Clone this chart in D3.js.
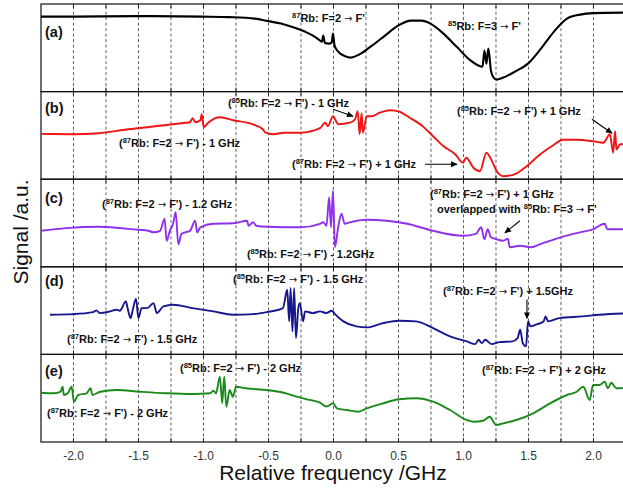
<!DOCTYPE html>
<html>
<head>
<meta charset="utf-8">
<script src="https://cdn.jsdelivr.net/npm/d3@7"></script>
<style>
body { margin: 0; background: #fff; }
svg { display: block; font-family: Arial, "Liberation Sans", sans-serif; }
</style>
</head>
<body>
<svg id="drawing_region"></svg>
<script>
// relative frequency (GHz) and signal (a.u.)
const traceA = [
  [-2.246,75],[-2.0,75],[-1.5,75.5],[-1.0,75],[-0.8,74.5],[-0.6,73],[-0.5,70.5],[-0.4,68],
  [-0.3,64],[-0.2,59],[-0.13,54],[-0.1,51],[-0.085,50],[-0.075,56],[-0.062,48.5],[-0.03,48],
  [-0.01,49],[0.0,58],[0.012,46],[0.04,40],[0.1,35],[0.13,34],[0.2,37],[0.3,46],[0.4,56],
  [0.5,66],[0.6,71],[0.68,71],[0.75,68],[0.85,58],[0.95,45],[1.05,32],[1.12,26],[1.15,25],
  [1.165,41],[1.18,28],[1.195,43],[1.215,21],[1.235,14],[1.26,12],[1.3,13.5],[1.4,20],
  [1.5,28],[1.6,43],[1.7,60],[1.8,73],[1.9,77],[2.0,78.5],[2.25,79]
];
const traceB = [
  [-2.246,45.3],[-2.0,45],[-1.8,46],[-1.6,49.5],[-1.4,52.5],[-1.2,55.5],[-1.1,57],[-1.08,61],
  [-1.06,57],[-1.02,59],[-1.01,65],[-0.995,52],[-0.96,56.5],[-0.87,62],[-0.77,59],[-0.62,55],
  [-0.54,50],[-0.52,46.5],[-0.46,45],[-0.38,46.5],[-0.25,46.5],[-0.1,51],[-0.06,56.5],
  [-0.04,53],[0.0,63],[0.04,55],[0.13,56.5],[0.17,60],[0.19,68],[0.205,45],[0.22,66],
  [0.23,46.5],[0.26,63],[0.3,63],[0.36,66.5],[0.44,69],[0.51,67.5],[0.59,61.5],[0.69,53],
  [0.77,43],[0.85,33],[0.94,25],[1.0,16.5],[1.025,21.5],[1.08,11.5],[1.13,8],[1.18,26.5],
  [1.21,21.5],[1.26,8],[1.31,3],[1.39,4.5],[1.49,13],[1.59,24.5],[1.7,34.5],[1.77,39.5],
  [1.87,39.5],[2.0,38],[2.08,36.5],[2.13,45],[2.155,26.5],[2.17,48],[2.18,30],[2.21,35],[2.25,35]
];
const traceC = [
  [-2.246,36],[-2.05,38.7],[-1.8,40],[-1.5,37],[-1.42,36],[-1.38,34.5],[-1.33,36],[-1.295,48],
  [-1.28,26],[-1.255,36],[-1.23,43],[-1.21,54.5],[-1.19,22.5],[-1.165,33],[-1.1,36],[-1.06,46],
  [-1.045,34.5],[-1.02,39.5],[-0.92,43],[-0.77,43.5],[-0.66,46],[-0.65,41],[-0.615,44.5],
  [-0.59,41],[-0.51,40],[-0.25,39.5],[-0.1,43],[-0.075,44.5],[-0.05,41],[-0.03,69.5],
  [-0.015,39.5],[0.0,76],[0.015,19.5],[0.04,39.5],[0.065,53],[0.09,43],[0.13,44.5],[0.26,47],
  [0.41,46],[0.57,43],[0.77,36],[1.0,31],[1.1,33],[1.14,39.5],[1.165,27.5],[1.19,37.5],
  [1.215,29.5],[1.26,27.5],[1.31,26],[1.345,28],[1.36,19.5],[1.44,21],[1.52,19.5],[1.59,22.5],
  [1.75,29.5],[1.9,34.5],[2.0,37.5],[2.09,43],[2.11,37.5],[2.25,37.5]
];
const traceD = [
  [-2.177,39.7],[-2.0,40.3],[-1.845,42.3],[-1.82,44],[-1.795,41.3],[-1.715,43],[-1.665,44.7],
  [-1.64,43.7],[-1.593,53],[-1.58,46.3],[-1.557,36.3],[-1.54,44.7],[-1.515,55.7],[-1.497,36.3],
  [-1.472,46.3],[-1.43,46.3],[-1.38,51.3],[-1.355,41.3],[-1.305,48],[-1.23,49.7],[-1.08,46.3],
  [-0.92,43],[-0.77,39.7],[-0.615,40.3],[-0.51,42.3],[-0.385,46.3],[-0.352,64.7],[-0.337,33],
  [-0.326,66.3],[-0.312,23],[-0.299,66.3],[-0.285,16.3],[-0.267,46.3],[-0.255,51.3],[-0.23,33],
  [-0.215,43],[-0.155,41.3],[-0.1,43],[-0.05,41.3],[-0.01,43.7],[0.015,40.3],[0.08,33],
  [0.18,28],[0.26,27],[0.385,31.3],[0.51,33.7],[0.64,33],[0.77,26.3],[0.9,18],[1.03,13],
  [1.095,10.3],[1.12,14.7],[1.145,11.3],[1.17,14.7],[1.22,10.3],[1.28,12.3],[1.38,13],
  [1.42,16.3],[1.44,24.7],[1.46,11.3],[1.485,8],[1.5,33],[1.52,28],[1.56,29.7],[1.62,33],
  [1.635,38],[1.655,33],[1.74,36.3],[1.92,38],[2.05,39.7],[2.25,41]
];
const traceE = [
  [-2.246,49.3],[-2.146,48.7],[-2.095,50.3],[-2.08,55.3],[-2.07,47],[-2.04,48.7],[-2.01,55.3],
  [-1.993,40.3],[-1.96,47],[-1.895,48.7],[-1.865,53.7],[-1.85,47],[-1.79,50.3],[-1.665,52],
  [-1.485,50.3],[-1.28,48.7],[-1.075,48],[-0.945,48.7],[-0.92,51.3],[-0.9,48.7],[-0.87,65.3],
  [-0.852,38.7],[-0.837,65.3],[-0.82,35.3],[-0.795,52],[-0.77,45.3],[-0.745,55.3],[-0.67,53.7],
  [-0.51,52],[-0.36,48.7],[-0.28,45.3],[-0.2,42.7],[-0.1,39.3],[-0.05,35.5],[0.0,38.7],
  [0.03,33.7],[0.105,32],[0.195,30.3],[0.26,33.7],[0.385,38.7],[0.51,42.7],[0.64,43.7],
  [0.77,40.3],[0.9,32],[1.03,22],[1.08,20.3],[1.155,21.3],[1.205,25.3],[1.255,17],[1.31,18.7],
  [1.41,22],[1.54,28.7],[1.67,38.7],[1.8,47],[1.875,50.3],[1.925,55.3],[1.975,42],[2.0,57],
  [2.05,57],[2.09,60.3],[2.115,53.7],[2.14,59.3],[2.18,53.7],[2.25,54]
];

const panelNames = ["(a)", "(b)", "(c)", "(d)", "(e)"];
const traces = [traceA, traceB, traceC, traceD, traceE];
const freqTicks = [-2.0, -1.5, -1.0, -0.5, 0.0, 0.5, 1.0, 1.5, 2.0];
const gridFreqs = [-2.0, -1.75, -1.5, -1.25, -1.0, -0.75, -0.5, -0.25, 0.0,
                   0.25, 0.5, 0.75, 1.0, 1.25, 1.5, 1.75, 2.0];

// [panel, text, freq, signal]  "^87" = superscript
const notes = [
  [0, "^87Rb: F=2 → F'", -0.315, 70],
  [0, "^85Rb: F=3 → F'", 0.885, 62],
  [1, "(^85Rb: F=2 → F') - 1 GHz", -0.808, 72],
  [1, "(^87Rb: F=2 → F') - 1 GHz", -1.646, 32],
  [1, "(^87Rb: F=2 → F') + 1 GHz", -0.315, 11],
  [1, "(^85Rb: F=2 → F') + 1 GHz", 0.954, 64],
  [2, "(^87Rb: F=2 → F') - 1.2 GHz", -1.777, 59],
  [2, "(^85Rb: F=2 → F') - 1.2GHz", -0.662, 9],
  [2, "(^87Rb: F=2 → F') + 1 GHz", 0.746, 69],
  [2, "overlapped with ^85Rb: F=3 → F'", 0.8, 54],
  [3, "(^85Rb: F=2 → F') - 1.5 GHz", -0.769, 71],
  [3, "(^87Rb: F=2 → F') - 1.5 GHz", -2.046, 11],
  [3, "(^87Rb: F=2 → F') + 1.5GHz", 0.846, 59],
  [4, "(^85Rb: F=2 → F') - 2 GHz", -1.177, 70],
  [4, "(^87Rb: F=2 → F') - 2 GHz", -2.2, 25],
  [4, "(^87Rb: F=2 → F') + 2 GHz", 1.146, 68]
];
// [panel, freq1, signal1, freq2, signal2]
const pointers = [
  [1, 0.0, 70, 0.154, 63],
  [1, 0.708, 15, 0.954, 15],
  [1, 1.992, 60, 2.146, 46],
  [2, 1.438, 46, 1.323, 34],
  [3, 1.492, 55, 1.492, 36]
];

const lineColors = ["#000000", "#f01414", "#8f30ec", "#16168e", "#1b8a1b"];

const width = 623, height = 489;
const signalMax = 87.6;

const svg = d3.select("#drawing_region")
  .attr("width", width)
  .attr("height", height);

svg.append("defs").append("marker")
  .attr("id", "head")
  .attr("viewBox", "0 0 10 10")
  .attr("refX", 9).attr("refY", 5)
  .attr("markerWidth", 7).attr("markerHeight", 6)
  .attr("orient", "auto")
  .append("path").attr("d", "M0,0.5L10,5L0,9.5Z").attr("fill", "#000");

const xscale = d3.scaleLinear().domain([-2.246, 2.25]).range([41, 625.5]);
const band = d3.scaleBand().domain(panelNames).range([4, 442]);
const ph = band.bandwidth();
const yscale = d3.scaleLinear().domain([0, signalMax]).range([ph, 0]);

const line = d3.line()
  .x(d => xscale(d[0]))
  .y(d => yscale(d[1]))
  .curve(d3.curveMonotoneX);

function writeLabel(g, str, x, y) {
  const t = g.append("text")
    .attr("x", x).attr("y", y)
    .attr("font-size", 11)
    .attr("font-weight", "bold")
    .attr("fill", "#111");
  let shift = 0;
  str.split(/(\^\d+|→)/).filter(s => s.length).forEach(part => {
    let span;
    if (part[0] === "^") {
      span = t.append("tspan").attr("font-size", 7.5).attr("dy", -4 - shift).text(part.slice(1));
      shift = -4;
      return;
    } else if (part === "→") {
      span = t.append("tspan")
        .attr("font-family", "'DejaVu Sans', sans-serif")
        .attr("font-weight", "normal")
        .attr("font-size", 10)
        .text(part);
    } else {
      span = t.append("tspan").text(part);
    }
    if (shift) { span.attr("dy", -shift); shift = 0; }
  });
}

panelNames.forEach((name, i) => {
  const g = svg.append("g").attr("transform", `translate(0,${band(name)})`);

  // dashed grid
  g.append("g")
    .attr("transform", `translate(0,${ph})`)
    .call(d3.axisBottom(xscale).tickValues(gridFreqs).tickSize(-ph).tickFormat(""))
    .call(s => s.select(".domain").remove())
    .selectAll("line")
    .attr("stroke", "#333")
    .attr("stroke-width", 0.8)
    .attr("stroke-dasharray", "3,2.5");

  // inward ticks
  g.append("g")
    .attr("transform", `translate(0,${ph})`)
    .call(d3.axisBottom(xscale).tickValues(gridFreqs).tickSize(-4).tickFormat(""))
    .call(s => s.select(".domain").remove())
    .selectAll("line").attr("stroke", "#222");
  g.append("g")
    .call(d3.axisTop(xscale).tickValues(gridFreqs).tickSize(-4).tickFormat(""))
    .call(s => s.select(".domain").remove())
    .selectAll("line").attr("stroke", "#222");

  g.append("rect")
    .attr("x", xscale(-2.246)).attr("y", 0)
    .attr("width", xscale(2.25) - xscale(-2.246)).attr("height", ph)
    .attr("fill", "none").attr("stroke", "#111").attr("stroke-width", 1.2);

  g.append("path")
    .datum(traces[i])
    .attr("d", line)
    .attr("fill", "none")
    .attr("stroke", lineColors[i])
    .attr("stroke-width", i === 0 ? 2.1 : 1.9)
    .attr("stroke-linejoin", "round");

  g.append("text")
    .attr("x", 45)
    .attr("y", [33, 21, 24, 19, 22][i])
    .attr("font-size", 14.5)
    .attr("font-weight", "bold")
    .attr("fill", "#111")
    .text(name);

  notes.filter(n => n[0] === i).forEach(n => {
    writeLabel(g, n[1], xscale(n[2]), yscale(n[3]));
  });

  pointers.filter(p => p[0] === i).forEach(p => {
    g.append("line")
      .attr("x1", xscale(p[1])).attr("y1", yscale(p[2]))
      .attr("x2", xscale(p[3])).attr("y2", yscale(p[4]))
      .attr("stroke", "#000").attr("stroke-width", 1.1)
      .attr("marker-end", "url(#head)");
  });
});

// bottom axis labels
svg.append("g")
  .attr("transform", `translate(0,442)`)
  .call(d3.axisBottom(xscale).tickValues(freqTicks).tickSize(0).tickPadding(9)
    .tickFormat(d => d.toFixed(1)))
  .call(s => s.select(".domain").remove())
  .selectAll("text")
  .attr("font-family", "Arial, 'Liberation Sans', sans-serif")
  .attr("font-size", 12)
  .attr("fill", "#333");

svg.append("text")
  .attr("x", 333).attr("y", 480)
  .attr("text-anchor", "middle")
  .attr("font-size", 21)
  .attr("fill", "#111")
  .text("Relative frequency /GHz");

svg.append("text")
  .attr("transform", "translate(28,232) rotate(-90)")
  .attr("text-anchor", "middle")
  .attr("font-size", 21)
  .attr("fill", "#111")
  .text("Signal /a.u.");
</script>
</body>
</html>
